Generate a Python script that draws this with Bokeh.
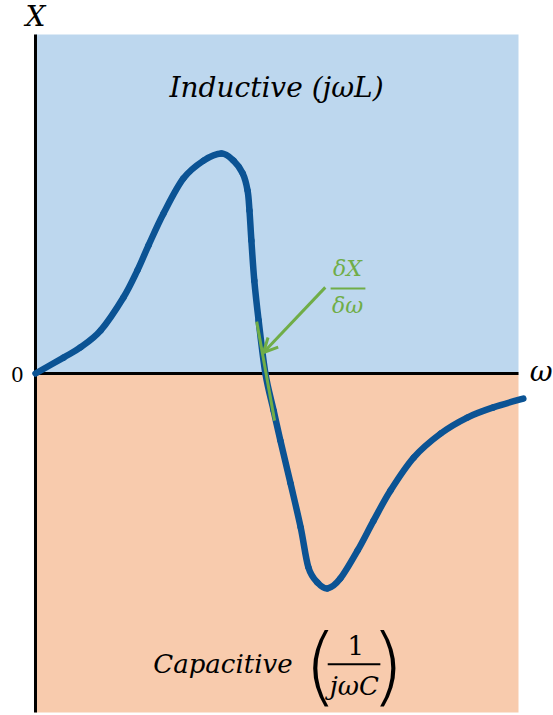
from bokeh.plotting import figure
from bokeh.models import Range1d, Arrow, OpenHead
from bokeh.core.properties import value
from bokeh.embed import file_html
from bokeh.resources import INLINE

# Reactance X versus angular frequency omega (arbitrary units)
omega = [0.00, 0.58, 0.93, 1.35, 1.82, 2.11, 2.34, 2.65, 3.06, 3.48, 3.85,
         4.10, 4.29, 4.39, 4.43, 4.47, 4.53, 4.62, 4.76, 4.93, 5.07, 5.28,
         5.49, 5.65, 5.84, 6.05, 6.31, 6.67, 7.00, 7.35, 7.83, 8.39, 8.94,
         9.48, 10.10]
reactance = [0.000, 0.047, 0.077, 0.127, 0.224, 0.304, 0.378, 0.472, 0.575,
             0.628, 0.649, 0.628, 0.590, 0.540, 0.481, 0.392, 0.274, 0.156,
             0.000, -0.109, -0.198, -0.324, -0.454, -0.572, -0.617, -0.634,
             -0.605, -0.522, -0.434, -0.345, -0.248, -0.177, -0.130, -0.100,
             -0.074]

# Tangent segment (slope dX/domega) at the zero crossing
tangent_omega = [4.58, 4.95]
tangent_x = [0.153, -0.139]

# Region extents
omega_max = 10.0
x_limit = 1.0

BLUE = "#BDD7EE"
ORANGE = "#F8CBAD"
CURVE = "#0B5394"
GREEN = "#70AD47"
SERIF = value("DejaVu Serif")

p = figure(width=553, height=715, output_backend="svg", toolbar_location=None,
           x_range=Range1d(-0.7246, 10.7246), y_range=Range1d(-1.00885, 1.10029),
           min_border=0, border_fill_color="white", background_fill_color="white",
           outline_line_color=None)
p.axis.visible = False
p.grid.visible = False

# Inductive (upper) and capacitive (lower) half-planes
p.quad(left=[0], right=[omega_max], bottom=[0], top=[x_limit],
       fill_color=BLUE, line_color=None)
p.quad(left=[0], right=[omega_max], bottom=[-x_limit], top=[0],
       fill_color=ORANGE, line_color=None)

# Axes
p.line([0, omega_max], [0, 0], line_color="black", line_width=3)
p.line([0, 0], [-x_limit, x_limit], line_color="black", line_width=3)

# Reactance curve: smooth cubic segments through the points (Catmull-Rom
# tangents turned into Bezier control points)
n = len(omega)
x0, y0, x1, y1, cx0, cy0, cx1, cy1 = ([] for _ in range(8))
for i in range(n - 1):
    a = max(i - 1, 0)
    d = min(i + 2, n - 1)
    x0.append(omega[i]); y0.append(reactance[i])
    x1.append(omega[i + 1]); y1.append(reactance[i + 1])
    cx0.append(omega[i] + (omega[i + 1] - omega[a]) / 6)
    cy0.append(reactance[i] + (reactance[i + 1] - reactance[a]) / 6)
    cx1.append(omega[i + 1] - (omega[d] - omega[i]) / 6)
    cy1.append(reactance[i + 1] - (reactance[d] - reactance[i]) / 6)
p.bezier(x0=x0, y0=y0, x1=x1, y1=y1, cx0=cx0, cy0=cy0, cx1=cx1, cy1=cy1,
         line_color=CURVE, line_width=6.5, line_cap="round")

# Tangent and arrow
p.line(tangent_omega, tangent_x, line_color=GREEN, line_width=3)
p.add_layout(Arrow(end=OpenHead(size=14, line_color=GREEN, line_width=3),
                   x_start=6.00, y_start=0.254, x_end=4.72, y_end=0.062,
                   line_color=GREEN, line_width=3))

def label(x, y, txt, size, color="black", style="italic", align="center",
          font=SERIF, baseline="middle"):
    p.text(x=[x], y=[y], text=[txt], text_font=font, text_font_size=f"{size}px",
           text_font_style=style, text_color=color, text_align=align,
           text_baseline=baseline)

# Axis labels
label(0.0, 1.054, "X", 28)
label(10.47, 0.005, "ω", 28)
label(-0.373, -0.003, "0", 20, style="normal")

# Region labels
label(4.99, 0.845, "Inductive (jωL)", 28)
label(3.88, -0.858, "Capacitive", 26)
p.text(x=[5.90, 7.29], y=[-0.861, -0.861], text=["(", ")"],
       text_font=value("DejaVu Sans Light"), text_font_size="86px",
       text_color="black", text_align="center", text_baseline="middle")
label(6.63, -0.803, "1", 26, style="normal")
p.line([6.05, 7.14], [-0.858, -0.858], line_color="black", line_width=2)
label(6.60, -0.922, "jωC", 26)

# Derivative label
label(6.46, 0.310, "δX", 22, color=GREEN)
p.line([6.11, 6.83], [0.251, 0.251], line_color=GREEN, line_width=2)
label(6.46, 0.201, "δω", 22, color=GREEN)

open("out.html", "w").write(file_html(p, INLINE))
